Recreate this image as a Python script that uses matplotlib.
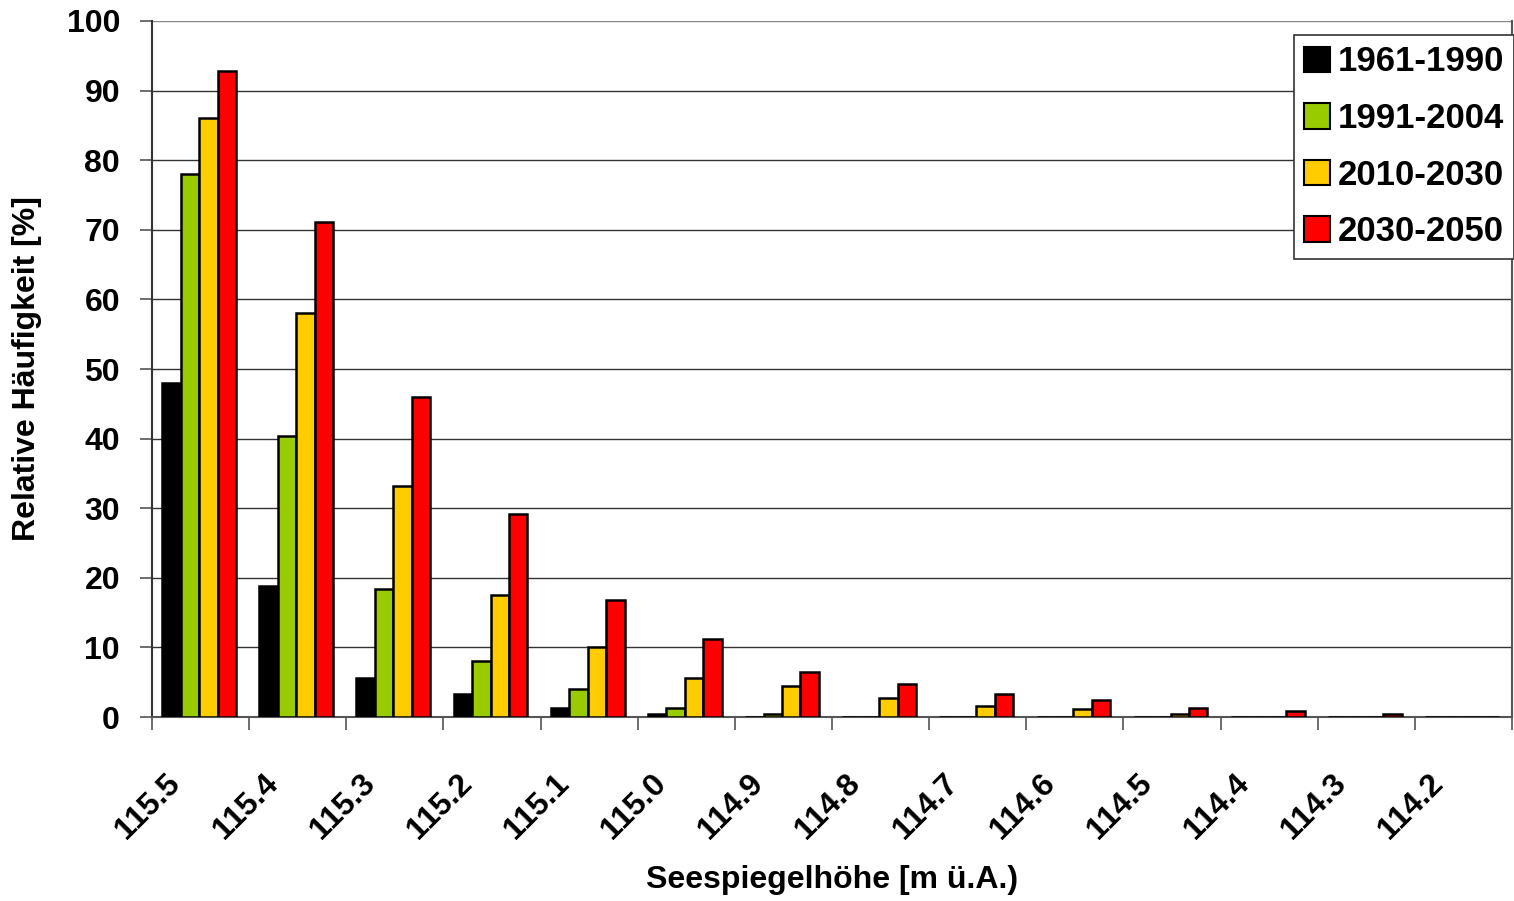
import numpy as np
import matplotlib.pyplot as plt
import matplotlib.transforms as mtransforms

plt.rcParams['font.family'] = ['Liberation Sans', 'DejaVu Sans']
plt.rcParams['font.weight'] = 'bold'

# Seespiegelhöhen (Klassen) und relative Häufigkeiten je Zeitraum
hoehen = ['115.5', '115.4', '115.3', '115.2', '115.1', '115.0', '114.9',
          '114.8', '114.7', '114.6', '114.5', '114.4', '114.3', '114.2']
p1961_1990 = [48.0, 18.8, 5.6, 3.3, 1.3, 0.5, 0, 0, 0, 0, 0, 0, 0, 0]
p1991_2004 = [78.0, 40.4, 18.4, 8.0, 4.0, 1.3, 0.4, 0, 0, 0, 0, 0, 0, 0]
p2010_2030 = [86.0, 58.0, 33.2, 17.5, 10.0, 5.6, 4.4, 2.8, 1.6, 1.2, 0.5, 0, 0, 0]
p2030_2050 = [92.8, 71.1, 46.0, 29.2, 16.8, 11.2, 6.4, 4.8, 3.3, 2.4, 1.25, 0.85, 0.5, 0]

reihen = [('1961-1990', p1961_1990, '#000000'),
          ('1991-2004', p1991_2004, '#99CC00'),
          ('2010-2030', p2010_2030, '#FFCC00'),
          ('2030-2050', p2030_2050, '#FF0000')]

fig = plt.figure(figsize=(15.14, 9.01), dpi=100)
ax = fig.add_axes([0.1004, 0.2042, 0.8983, 0.7725])

n = len(hoehen)
x = np.arange(n) + 0.485
w = 0.19
for k, (name, werte, farbe) in enumerate(reihen):
    ax.bar(x + (k - 1.5) * w, werte, width=w, color=farbe,
           edgecolor='black', linewidth=1.8, label=name, zorder=3)

ax.set_xlim(0, n)
ax.set_ylim(0, 100)
ax.set_yticks(np.arange(0, 101, 10))
ax.yaxis.grid(True, color='#333333', linewidth=1.0, zorder=0)
ax.get_ygridlines()[-1].set_color('#888888')

# Klassengrenzen als Teilstriche, Beschriftungen in der Klassenmitte
ax.set_xticks(np.arange(n + 1), minor=True)
ax.set_xticks(np.arange(n) + 0.5)
ax.set_xticklabels(hoehen, rotation=45, ha='right', fontsize=23,
                   fontweight='bold')
ax.tick_params(axis='x', which='major', length=0, pad=37)
ax.tick_params(axis='x', which='minor', length=9, width=1.2, color='#555555')
ax.tick_params(axis='y', length=9, width=1.2, color='#555555',
               labelsize=23, pad=14)
for lbl in ax.get_yticklabels():
    lbl.set_fontweight('bold')
shift = mtransforms.ScaledTranslation(-0.14, 0, fig.dpi_scale_trans)
for lbl in ax.get_xticklabels():
    lbl.set_transform(lbl.get_transform() + shift)

for s in ['left', 'bottom', 'right']:
    ax.spines[s].set_color('#555555')
    ax.spines[s].set_linewidth(1.5)
ax.spines['left'].set_color('#333333')
ax.spines['top'].set_visible(False)

ax.set_xlabel('Seespiegelhöhe [m ü.A.)', fontsize=23, fontweight='bold',
              labelpad=0)
ax.xaxis.set_label_coords(0.5, -0.212)
ax.set_ylabel('Relative Häufigkeit [%]', fontsize=23, fontweight='bold')
ax.yaxis.set_label_coords(-0.081, 0.5)

leg = ax.legend(loc='upper right', bbox_to_anchor=(1.0015, 0.98),
                prop={'size': 25, 'weight': 'bold'}, handlelength=0.75,
                handleheight=0.75, handletextpad=0.2, labelspacing=0.68,
                borderpad=0.3, fancybox=False, framealpha=1,
                borderaxespad=0)
leg.get_frame().set_edgecolor('#333333')
leg.get_frame().set_linewidth(1.2)
for h in leg.legend_handles:
    h.set_linewidth(1.5)

fig.savefig('out.png', dpi=100)
